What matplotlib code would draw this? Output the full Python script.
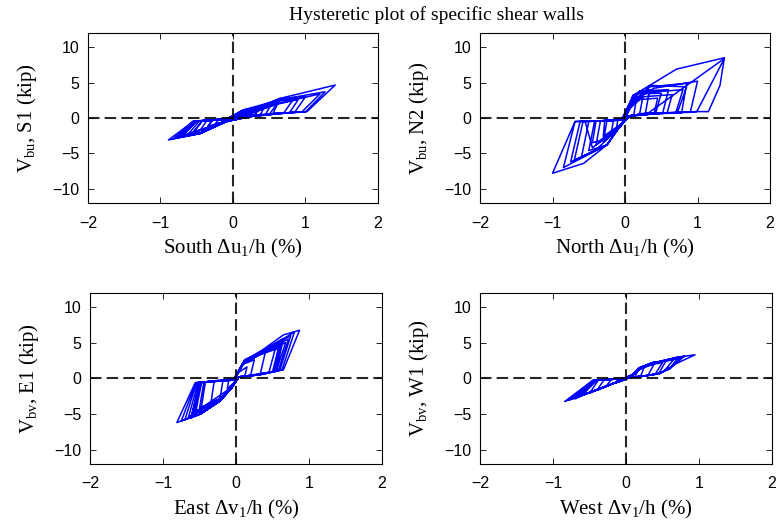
import matplotlib
matplotlib.use('Agg')
import matplotlib.pyplot as plt

# (drift %, shear kip) vertices
south_path = [
    (0, 0),
    (0.04, 0.3), (0.15, 0.9), (0.12, 0.3), (0.02, 0.05), (-0.04, -0.2), (-0.15, -0.6), (-0.12, -0.2), (-0.02, -0.05),
    (0.05, 0.4), (0.22, 1.15), (0.18, 0.35), (0.03, 0.1), (-0.05, -0.3), (-0.25, -0.9), (-0.20, -0.25), (-0.03, -0.1),
    (0.06, 0.5), (0.30, 1.35), (0.24, 0.4), (0.04, 0.1), (-0.06, -0.35), (-0.35, -1.3), (-0.28, -0.3), (-0.04, -0.1),
    (0.08, 0.7), (0.37, 1.6), (0.30, 0.45), (0.05, 0.15), (-0.07, -0.4), (-0.45, -1.7), (-0.36, -0.35), (-0.05, -0.1),
    (0.10, 0.9), (0.45, 1.9), (0.38, 0.5), (0.06, 0.15), (-0.08, -0.45), (-0.55, -2.1), (-0.42, -0.4), (-0.06, -0.15),
    (0.14, 1.13), (0.55, 2.3), (0.45, 0.55), (0.20, 0.25), (-0.09, -0.5), (-0.62, -2.3), (-0.46, -0.4), (-0.08, -0.15),
    (0.14, 1.1), (0.37, 1.6), (0.65, 2.77), (0.55, 0.6), (0.22, 0.2), (-0.09, -0.5), (-0.45, -2.1), (-0.70, -2.6),
    (-0.50, -0.45), (-0.10, -0.2),
    (0.15, 1.0), (0.65, 2.5), (0.85, 2.9), (0.70, 0.7), (0.23, 0.2), (-0.09, -0.5), (-0.45, -2.1), (-0.75, -2.7),
    (-0.52, -0.45), (-0.10, -0.2),
    (0.20, 0.9), (0.65, 2.4), (1.00, 3.0), (0.85, 0.8), (0.23, 0.2), (-0.09, -0.5), (-0.45, -2.15), (-0.78, -2.8),
    (-0.53, -0.5), (-0.10, -0.2),
    (0.25, 0.9), (0.65, 2.6), (1.27, 3.7), (1.00, 0.85), (0.60, 0.66), (0.23, 0.2), (-0.09, -0.5), (-0.45, -2.2),
    (-0.82, -2.9), (-0.55, -0.5), (-0.10, -0.2),
    (0.14, 1.13), (0.37, 1.6), (0.65, 2.77), (1.41, 4.65), (1.02, 0.9), (0.60, 0.66), (0.23, 0.2), (-0.09, -0.5),
    (-0.45, -2.2), (-0.89, -3.1), (-0.55, -0.5), (-0.10, -0.2),
    (0.30, 0.8), (0.60, 2.0), (1.20, 3.4), (0.95, 0.85), (0.55, 0.6), (0.23, 0.2), (-0.09, -0.5), (-0.45, -2.1),
    (-0.80, -2.8), (-0.55, -0.45), (-0.10, -0.2),
    (0.25, 0.7), (0.50, 1.7), (0.90, 2.6), (0.78, 0.75), (0.22, 0.2), (-0.08, -0.45), (-0.70, -2.5), (-0.50, -0.4),
    (-0.10, -0.15),
    (0.20, 0.6), (0.60, 1.9), (0.50, 0.5), (0.20, 0.2), (-0.07, -0.4), (-0.55, -2.0), (-0.42, -0.35), (-0.08, -0.15),
    (0.12, 0.5), (0.35, 1.2), (0.30, 0.35), (0.05, 0.1), (-0.05, -0.3), (-0.35, -1.2), (-0.28, -0.25), (0, 0)]

north_path = [
    (0, 0),
    (0.03, 0.5), (0.08, 1.8), (0.15, 2.2), (0.12, 0.4), (0.02, 0.1), (-0.03, -0.5), (-0.12, -1.6), (-0.10, -0.3),
    (-0.02, -0.1),
    (0.04, 0.8), (0.10, 2.8), (0.25, 3.2), (0.20, 0.5), (0.03, 0.2), (-0.05, -0.9), (-0.20, -2.6), (-0.16, -0.35),
    (-0.03, -0.15),
    (0.05, 1.0), (0.11, 3.2), (0.34, 4.0), (0.28, 0.6), (0.04, 0.25), (-0.07, -1.2), (-0.30, -3.4), (-0.25, -0.4),
    (-0.04, -0.2),
    (0.06, 1.2), (0.15, 3.4), (0.50, 3.5), (0.42, 0.6), (0.05, 0.3), (-0.09, -1.45), (-0.40, -3.8), (-0.34, -0.45),
    (-0.05, -0.2),
    (0.07, 1.4), (0.20, 3.8), (0.60, 4.0), (0.52, 0.7), (0.06, 0.3), (-0.09, -1.45), (-0.25, -3.8), (-0.50, -4.6),
    (-0.42, -0.45), (-0.05, -0.25),
    (0.08, 1.5), (0.34, 4.6), (0.85, 4.4), (0.72, 0.7), (0.30, 0.6), (0.06, 0.3), (-0.09, -1.45), (-0.25, -3.8),
    (-0.60, -5.5), (-0.50, -0.5), (-0.05, -0.25),
    (0.10, 1.8), (0.34, 4.4), (0.85, 4.9), (0.78, 0.7), (0.30, 0.6), (0.06, 0.3), (-0.09, -1.45), (-0.25, -3.8),
    (-0.70, -6.0), (-0.58, -0.5), (-0.05, -0.3),
    (0.11, 3.2), (0.34, 4.6), (0.71, 6.9), (1.37, 8.5), (1.31, 4.6), (1.15, 0.9), (0.99, 0.9), (0.30, 0.65),
    (0.06, 0.3), (-0.09, -1.45), (-0.25, -3.8), (-0.57, -6.4), (-1.00, -7.8), (-0.69, -0.5), (-0.05, -0.3),
    (0.20, 0.6), (0.32, 0.7), (1.37, 8.4), (0.99, 0.9), (0.40, 0.65), (0.06, 0.3), (-0.09, -1.45), (-0.25, -3.8),
    (-0.85, -7.0), (-0.69, -0.5), (-0.05, -0.3),
    (0.10, 2.5), (0.40, 4.2), (1.00, 5.2), (0.90, 0.8), (0.35, 0.65), (0.06, 0.3), (-0.09, -1.45), (-0.40, -4.5),
    (-0.75, -6.2), (-0.62, -0.5), (-0.05, -0.3),
    (0.08, 2.0), (0.30, 3.6), (0.80, 4.0), (0.70, 0.75), (0.30, 0.6), (0.05, 0.3), (-0.08, -1.3), (-0.45, -4.2),
    (-0.55, -0.5), (-0.05, -0.25),
    (0.07, 1.6), (0.25, 3.0), (0.65, 3.3), (0.58, 0.7), (0.05, 0.3), (-0.07, -1.1), (-0.35, -3.2), (-0.45, -3.5),
    (-0.40, -0.45), (-0.04, -0.2),
    (0.05, 1.2), (0.20, 2.6), (0.45, 2.8), (0.40, 0.6), (0.04, 0.2), (-0.06, -0.9), (-0.30, -2.6), (-0.28, -0.4),
    (0, 0)]

east_path = [
    (0, 0),
    (0.03, 0.8), (0.15, 1.6), (0.12, 0.3), (0.02, 0.1), (-0.03, -0.6), (-0.12, -1.5), (-0.10, -0.3), (-0.02, -0.1),
    (0.03, 0.8), (0.08, 1.9), (0.25, 2.6), (0.20, 0.4), (0.03, 0.15), (-0.06, -1.35), (-0.22, -2.9), (-0.18, -0.35),
    (-0.03, -0.1),
    (0.08, 1.9), (0.12, 2.6), (0.40, 3.6), (0.33, 0.5), (0.04, 0.2), (-0.06, -1.35), (-0.22, -3.2), (-0.35, -3.9),
    (-0.30, -0.45), (-0.03, -0.15),
    (0.08, 1.9), (0.12, 2.6), (0.33, 3.75), (0.55, 4.6), (0.45, 0.8), (0.30, 0.5), (0.04, 0.2), (-0.06, -1.35),
    (-0.22, -3.2), (-0.49, -5.05), (-0.42, -0.55), (-0.03, -0.2),
    (0.10, 2.2), (0.33, 3.7), (0.65, 5.6), (0.55, 1.0), (0.30, 0.5), (0.04, 0.2), (-0.06, -1.35), (-0.22, -3.2),
    (-0.49, -5.0), (-0.62, -5.6), (-0.50, -0.6), (-0.03, -0.2),
    (0.10, 2.2), (0.33, 3.75), (0.65, 6.1), (0.87, 6.75), (0.65, 1.2), (0.33, 0.5), (0.04, 0.2), (-0.06, -1.35),
    (-0.22, -3.2), (-0.49, -5.05), (-0.81, -6.2), (-0.56, -0.65), (-0.03, -0.25),
    (0.12, 2.3), (0.35, 3.7), (0.80, 6.5), (0.63, 1.2), (0.33, 0.5), (0.04, 0.2), (-0.06, -1.35), (-0.22, -3.2),
    (-0.49, -5.0), (-0.75, -6.0), (-0.55, -0.6), (-0.03, -0.25),
    (0.12, 2.4), (0.40, 3.9), (0.75, 6.0), (0.60, 1.15), (0.30, 0.5), (0.04, 0.2), (-0.06, -1.3), (-0.24, -3.3),
    (-0.70, -5.8), (-0.54, -0.6), (-0.03, -0.2),
    (0.11, 2.3), (0.38, 3.8), (0.72, 5.5), (0.58, 1.1), (0.30, 0.5), (0.04, 0.2), (-0.06, -1.3), (-0.25, -3.3),
    (-0.65, -5.4), (-0.52, -0.6), (-0.03, -0.2),
    (0.10, 2.2), (0.36, 3.6), (0.68, 5.0), (0.55, 1.0), (0.28, 0.5), (0.04, 0.2), (-0.06, -1.25), (-0.24, -3.1),
    (-0.60, -5.0), (-0.50, -0.55), (-0.03, -0.2),
    (0.10, 2.1), (0.34, 3.4), (0.62, 4.6), (0.52, 0.95), (0.27, 0.5), (0.04, 0.2), (-0.05, -1.2), (-0.22, -2.9),
    (-0.55, -4.6), (-0.47, -0.55), (-0.03, -0.2),
    (0.09, 2.0), (0.32, 3.3), (0.58, 4.2), (0.50, 0.9), (0.26, 0.45), (0.04, 0.2), (-0.05, -1.1), (-0.20, -2.7),
    (-0.50, -4.2), (-0.44, -0.5), (-0.03, -0.2),
    (0.09, 2.0), (0.60, 4.9), (0.52, 0.95), (0.04, 0.2), (-0.05, -1.2), (-0.58, -4.9), (-0.48, -0.55), (0, 0)]

west_path = [
    (0, 0),
    (0.04, 0.2), (0.15, 0.8), (0.12, 0.2), (0.02, 0.05), (-0.03, -0.2), (-0.15, -0.6), (-0.10, -0.1), (-0.02, -0.02),
    (0.06, 0.3), (0.17, 1.2), (0.25, 1.6), (0.20, 0.3), (0.03, 0.1), (-0.05, -0.3), (-0.17, -0.7), (-0.28, -1.2),
    (-0.20, -0.15), (-0.03, -0.05),
    (0.09, 0.5), (0.17, 1.4), (0.33, 2.08), (0.40, 2.3), (0.30, 0.4), (0.04, 0.1), (-0.06, -0.35), (-0.17, -0.7),
    (-0.40, -1.7), (-0.30, -0.2), (-0.04, -0.05),
    (0.09, 0.5), (0.17, 1.4), (0.33, 2.08), (0.55, 2.5), (0.45, 0.7), (0.24, 0.3), (0.04, 0.1), (-0.06, -0.35),
    (-0.17, -0.7), (-0.50, -2.1), (-0.38, -0.25), (-0.04, -0.05),
    (0.10, 0.6), (0.18, 1.5), (0.35, 2.1), (0.72, 3.0), (0.60, 1.4), (0.47, 0.7), (0.24, 0.3), (0.04, 0.1),
    (-0.06, -0.35), (-0.17, -0.7), (-0.58, -2.3), (-0.70, -2.9), (-0.42, -0.25), (-0.04, -0.05),
    (0.09, 0.5), (0.17, 1.4), (0.33, 2.08), (0.72, 3.0), (0.945, 3.3), (0.69, 2.08), (0.47, 0.7), (0.24, 0.3),
    (0.04, 0.1), (-0.06, -0.35), (-0.17, -0.7), (-0.58, -2.3), (-0.84, -3.25), (-0.45, -0.24), (-0.04, -0.05),
    (0.10, 0.55), (0.20, 1.45), (0.40, 2.2), (0.80, 3.1), (0.62, 1.6), (0.45, 0.65), (0.22, 0.3), (0.04, 0.1),
    (-0.06, -0.35), (-0.18, -0.75), (-0.55, -2.2), (-0.78, -3.05), (-0.45, -0.3), (-0.04, -0.05),
    (0.10, 0.55), (0.20, 1.4), (0.45, 2.3), (0.75, 2.85), (0.60, 1.3), (0.42, 0.6), (0.22, 0.3), (0.04, 0.1),
    (-0.06, -0.35), (-0.18, -0.75), (-0.72, -2.8), (-0.44, -0.3), (-0.04, -0.05),
    (0.09, 0.5), (0.20, 1.3), (0.42, 2.2), (0.65, 2.6), (0.52, 1.0), (0.40, 0.55), (0.20, 0.25), (0.04, 0.1),
    (-0.06, -0.35), (-0.18, -0.7), (-0.65, -2.6), (-0.43, -0.3), (-0.04, -0.05),
    (0.09, 0.5), (0.18, 1.3), (0.38, 2.3), (0.33, 1.9), (0.50, 2.2), (0.40, 0.6), (0.20, 0.25), (0.04, 0.1),
    (-0.05, -0.3), (-0.17, -0.7), (-0.60, -2.4), (-0.40, -0.25), (0, 0)]

xlabels = ['South $\\Delta$u$_1$/h (%)', 'North $\\Delta$u$_1$/h (%)',
           'East $\\Delta$v$_1$/h (%)', 'West $\\Delta$v$_1$/h (%)']
ylabels = ['V$_{\\rm bu}$, S1 (kip)', 'V$_{\\rm bu}$, N2 (kip)',
           'V$_{\\rm bv}$, E1 (kip)', 'V$_{\\rm bv}$, W1 (kip)']
xticks = [-2, -1, 0, 1, 2]
yticks = [-10, -5, 0, 5, 10]

plt.rcParams['mathtext.fontset'] = 'custom'
plt.rcParams['mathtext.rm'] = 'Liberation Serif'
plt.rcParams['mathtext.it'] = 'Liberation Serif'
plt.rcParams['mathtext.default'] = 'rm'

fig = plt.figure(figsize=(7.76, 5.22), dpi=100)
fig.text(0.563, 0.972, 'Hysteretic plot of specific shear walls', ha='center', va='center',
         family='Liberation Serif', fontsize=14)

positions = [[0.1134, 0.6111, 0.3737, 0.3257], [0.6186, 0.6111, 0.3737, 0.3257],
             [0.1160, 0.1115, 0.3763, 0.3275], [0.6186, 0.1115, 0.3763, 0.3275]]
paths = [south_path, north_path, east_path, west_path]

for i in range(4):
    ax = fig.add_axes(positions[i])
    d = [p[0] for p in paths[i]]
    v = [p[1] for p in paths[i]]
    ax.plot(d, v, color='#0000ff', linewidth=1.1)
    ax.axhline(0, color='k', linewidth=1.5, linestyle=(0, (5.5, 2.5)), alpha=0.85)
    ax.axvline(0, color='k', linewidth=1.5, linestyle=(0, (5.5, 2.5)), alpha=0.85)
    ax.set_xlim(-2, 2)
    ax.set_ylim(-12, 12)
    ax.set_xticks(xticks)
    ax.set_yticks(yticks)
    ax.set_xticklabels(['\u22122', '\u22121', '0', '1', '2'], family='Liberation Sans', fontsize=11.5)
    ax.set_yticklabels(['\u221210', '\u22125', '0', '5', '10'], family='Liberation Sans', fontsize=11.5)
    ax.tick_params(direction='in', top=True, right=True, length=4, width=0.6)
    ax.tick_params(axis='x', pad=9)
    ax.tick_params(axis='y', pad=6)
    for s in ax.spines.values():
        s.set_linewidth(0.8)
    ax.set_xlabel(xlabels[i], family='Liberation Serif', fontsize=15, labelpad=5)
    ax.set_ylabel(ylabels[i], family='Liberation Serif', fontsize=15, labelpad=10)

fig.savefig('out.png', dpi=100)
